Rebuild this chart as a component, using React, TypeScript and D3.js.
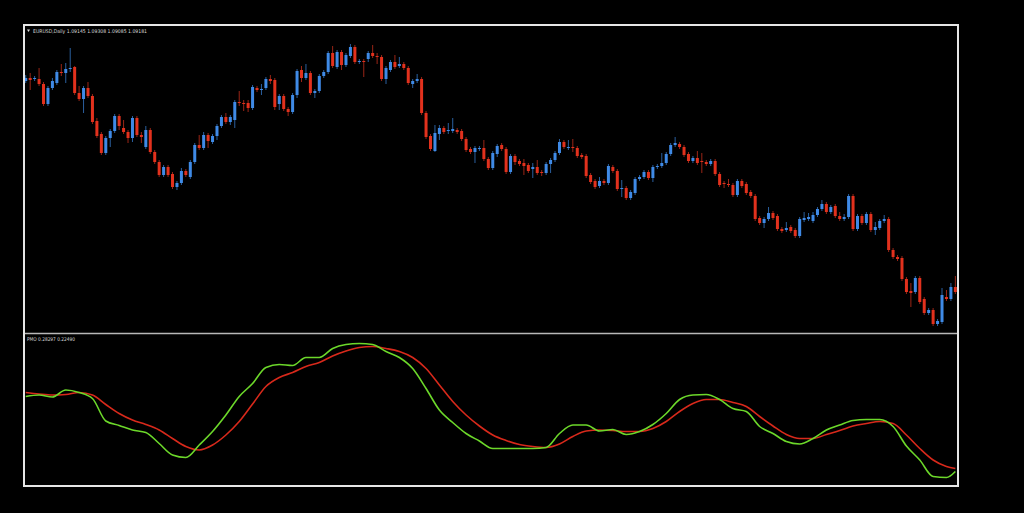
import * as d3 from 'd3';

// EURUSD daily candles (oldest first)
const opens = [1.1127,1.1130,1.1129,1.1129,1.1124,1.1104,1.1120,1.1125,1.1136,1.1135,1.1139,1.1141,1.1115,1.1109,1.1120,1.1112,1.1087,1.1074,1.1055,1.1070,1.1077,1.1092,1.1080,1.1076,1.1070,1.1090,1.1073,1.1061,1.1078,1.1056,1.1046,1.1033,1.1041,1.1034,1.1021,1.1025,1.1037,1.1031,1.1046,1.1063,1.1060,1.1073,1.1066,1.1072,1.1082,1.1091,1.1086,1.1088,1.1106,1.1105,1.1105,1.1100,1.1120,1.1118,1.1120,1.1129,1.1128,1.1104,1.1112,1.1099,1.1096,1.1113,1.1138,1.1130,1.1135,1.1115,1.1117,1.1132,1.1136,1.1155,1.1141,1.1156,1.1143,1.1152,1.1161,1.1146,1.1147,1.1149,1.1155,1.1152,1.1151,1.1129,1.1138,1.1146,1.1142,1.1144,1.1140,1.1124,1.1127,1.1129,1.1095,1.1072,1.1057,1.1074,1.1080,1.1077,1.1077,1.1078,1.1077,1.1069,1.1059,1.1056,1.1059,1.1060,1.1049,1.1040,1.1054,1.1063,1.1059,1.1036,1.1052,1.1047,1.1045,1.1043,1.1039,1.1041,1.1036,1.1035,1.1044,1.1048,1.1055,1.1066,1.1060,1.1061,1.1060,1.1053,1.1052,1.1033,1.1027,1.1022,1.1027,1.1025,1.1041,1.1037,1.1019,1.1020,1.1010,1.1015,1.1029,1.1031,1.1036,1.1030,1.1041,1.1042,1.1045,1.1054,1.1063,1.1064,1.1061,1.1054,1.1047,1.1050,1.1047,1.1046,1.1044,1.1047,1.1034,1.1025,1.1024,1.1023,1.1013,1.1027,1.1024,1.1016,1.1012,1.0990,1.0985,1.0989,1.0995,1.0992,1.0979,1.0978,1.0981,1.0978,1.0972,1.0988,1.0989,1.0987,1.0993,1.0999,1.1004,1.0996,1.1002,1.0992,1.0989,1.0991,1.1012,1.0979,1.0992,1.0985,1.0994,1.0978,1.0980,1.0987,1.0989,1.0958,1.0951,1.0950,1.0929,1.0917,1.0916,1.0930,1.0909,1.0895,1.0898,1.0884,1.0886,1.0911,1.0909,1.0921];
const highs = [1.1133,1.1135,1.1132,1.1140,1.1126,1.1122,1.1130,1.1138,1.1144,1.1145,1.1160,1.1142,1.1122,1.1122,1.1126,1.1114,1.1090,1.1076,1.1072,1.1079,1.1094,1.1094,1.1088,1.1078,1.1092,1.1092,1.1076,1.1082,1.1080,1.1058,1.1048,1.1043,1.1043,1.1036,1.1027,1.1040,1.1039,1.1048,1.1065,1.1073,1.1076,1.1075,1.1074,1.1084,1.1093,1.1095,1.1093,1.1108,1.1117,1.1108,1.1108,1.1123,1.1122,1.1124,1.1131,1.1133,1.1130,1.1114,1.1114,1.1101,1.1115,1.1139,1.1142,1.1144,1.1137,1.1119,1.1134,1.1138,1.1157,1.1162,1.1158,1.1158,1.1155,1.1164,1.1163,1.1149,1.1149,1.1157,1.1163,1.1155,1.1153,1.1142,1.1148,1.1153,1.1151,1.1146,1.1142,1.1129,1.1134,1.1131,1.1097,1.1074,1.1083,1.1083,1.1082,1.1085,1.1090,1.1080,1.1079,1.1071,1.1061,1.1062,1.1062,1.1068,1.1051,1.1057,1.1064,1.1065,1.1061,1.1054,1.1054,1.1049,1.1049,1.1045,1.1045,1.1048,1.1038,1.1046,1.1050,1.1057,1.1069,1.1068,1.1068,1.1069,1.1062,1.1055,1.1054,1.1035,1.1029,1.1031,1.1029,1.1044,1.1043,1.1039,1.1028,1.1022,1.1018,1.1031,1.1033,1.1038,1.1038,1.1043,1.1044,1.1055,1.1056,1.1065,1.1071,1.1066,1.1063,1.1056,1.1052,1.1057,1.1055,1.1048,1.1049,1.1049,1.1036,1.1027,1.1029,1.1025,1.1029,1.1029,1.1026,1.1018,1.1014,1.0992,1.0991,1.1001,1.0997,1.0994,1.0981,1.0986,1.0983,1.0980,1.0991,1.0996,1.0995,1.0996,1.1001,1.1008,1.1006,1.1003,1.1004,1.0996,1.0994,1.1014,1.1014,1.0994,1.0994,1.0996,1.0996,1.0986,1.0989,1.0993,1.0991,1.0960,1.0953,1.0952,1.0931,1.0925,1.0932,1.0932,1.0911,1.0900,1.0900,1.0889,1.0920,1.0918,1.0925,1.0932];
const lows = [1.1125,1.1118,1.1127,1.1122,1.1102,1.1102,1.1118,1.1123,1.1132,1.1125,1.1136,1.1113,1.1107,1.1095,1.1110,1.1084,1.1070,1.1053,1.1053,1.1061,1.1075,1.1078,1.1074,1.1065,1.1066,1.1071,1.1065,1.1059,1.1054,1.1044,1.1031,1.1031,1.1031,1.1019,1.1018,1.1023,1.1031,1.1029,1.1044,1.1058,1.1058,1.1060,1.1064,1.1068,1.1080,1.1084,1.1083,1.1080,1.1102,1.1097,1.1096,1.1098,1.1116,1.1113,1.1118,1.1124,1.1098,1.1098,1.1097,1.1092,1.1094,1.1110,1.1126,1.1128,1.1113,1.1110,1.1115,1.1130,1.1134,1.1140,1.1139,1.1138,1.1141,1.1150,1.1144,1.1144,1.1131,1.1146,1.1150,1.1144,1.1127,1.1124,1.1136,1.1139,1.1140,1.1138,1.1123,1.1120,1.1125,1.1093,1.1069,1.1057,1.1056,1.1068,1.1074,1.1074,1.1075,1.1074,1.1067,1.1056,1.1054,1.1045,1.1057,1.1047,1.1038,1.1038,1.1051,1.1057,1.1034,1.1034,1.1043,1.1042,1.1033,1.1035,1.1030,1.1033,1.1032,1.1033,1.1035,1.1046,1.1053,1.1059,1.1058,1.1056,1.1050,1.1049,1.1030,1.1024,1.1019,1.1020,1.1023,1.1023,1.1035,1.1017,1.1011,1.1008,1.1008,1.1013,1.1027,1.1029,1.1028,1.1026,1.1039,1.1040,1.1043,1.1052,1.1061,1.1059,1.1051,1.1045,1.1045,1.1043,1.1035,1.1042,1.1042,1.1032,1.1021,1.1020,1.1021,1.1011,1.1011,1.1020,1.1013,1.1010,1.0987,1.0983,1.0980,1.0987,1.0988,1.0977,1.0975,1.0976,1.0975,1.0970,1.0970,1.0986,1.0987,1.0985,1.0991,1.0997,1.0994,1.0994,1.0990,1.0987,1.0987,1.0989,1.0977,1.0977,1.0983,1.0983,1.0976,1.0973,1.0978,1.0985,1.0956,1.0949,1.0947,1.0927,1.0914,1.0901,1.0914,1.0904,1.0893,1.0893,1.0882,1.0882,1.0884,1.0907,1.0907,1.0914];
const closes = [1.1130,1.1128,1.1130,1.1124,1.1104,1.1120,1.1127,1.1136,1.1135,1.1139,1.1140,1.1115,1.1109,1.1120,1.1112,1.1086,1.1072,1.1055,1.1070,1.1077,1.1092,1.1082,1.1076,1.1070,1.1090,1.1073,1.1071,1.1078,1.1056,1.1046,1.1033,1.1041,1.1033,1.1021,1.1025,1.1037,1.1033,1.1046,1.1063,1.1060,1.1073,1.1067,1.1072,1.1082,1.1091,1.1086,1.1091,1.1106,1.1105,1.1104,1.1100,1.1121,1.1118,1.1119,1.1129,1.1127,1.1101,1.1112,1.1099,1.1096,1.1113,1.1137,1.1130,1.1135,1.1115,1.1117,1.1132,1.1136,1.1155,1.1142,1.1156,1.1143,1.1153,1.1161,1.1146,1.1147,1.1146,1.1155,1.1152,1.1151,1.1129,1.1140,1.1146,1.1141,1.1144,1.1140,1.1125,1.1127,1.1129,1.1095,1.1071,1.1059,1.1075,1.1080,1.1076,1.1078,1.1079,1.1076,1.1069,1.1058,1.1056,1.1060,1.1060,1.1049,1.1040,1.1055,1.1062,1.1059,1.1036,1.1052,1.1046,1.1044,1.1042,1.1037,1.1041,1.1035,1.1035,1.1044,1.1048,1.1055,1.1066,1.1061,1.1061,1.1060,1.1052,1.1051,1.1032,1.1026,1.1021,1.1027,1.1025,1.1042,1.1037,1.1019,1.1020,1.1010,1.1016,1.1029,1.1031,1.1036,1.1030,1.1041,1.1042,1.1045,1.1054,1.1063,1.1065,1.1061,1.1053,1.1047,1.1050,1.1045,1.1046,1.1044,1.1047,1.1034,1.1023,1.1024,1.1023,1.1013,1.1027,1.1022,1.1015,1.1012,1.0989,1.0985,1.0989,1.0995,1.0990,1.0979,1.0977,1.0980,1.0977,1.0972,1.0989,1.0990,1.0991,1.0993,1.0999,1.1004,1.0996,1.1001,1.0992,1.0989,1.0991,1.1012,1.0979,1.0992,1.0985,1.0994,1.0978,1.0981,1.0987,1.0989,1.0958,1.0951,1.0949,1.0929,1.0916,1.0915,1.0930,1.0906,1.0895,1.0898,1.0884,1.0887,1.0913,1.0909,1.0921,1.0916];

// Price Momentum Oscillator, sampled every third bar (plus the last bar)
const pmoBars = [...d3.range(0, 210, 3), 209];
const pmoLine = [0.87,0.90,0.86,1.00,0.95,0.83,0.38,0.29,0.20,0.15,-0.07,-0.30,-0.35,-0.10,0.17,0.50,0.87,1.13,1.45,1.51,1.49,1.65,1.65,1.83,1.91,1.93,1.91,1.77,1.65,1.43,1.03,0.60,0.35,0.13,-0.02,-0.17,-0.17,-0.17,-0.17,-0.15,0.13,0.30,0.30,0.18,0.21,0.11,0.17,0.31,0.53,0.81,0.90,0.91,0.81,0.63,0.57,0.27,0.13,-0.03,-0.08,0.03,0.20,0.30,0.39,0.41,0.41,0.27,-0.12,-0.40,-0.73,-0.75,-0.63];
const signalLine = [0.95,0.92,0.90,0.91,0.95,0.90,0.71,0.53,0.40,0.31,0.20,0.03,-0.13,-0.20,-0.10,0.10,0.37,0.72,1.07,1.25,1.35,1.47,1.55,1.68,1.78,1.85,1.87,1.83,1.77,1.65,1.43,1.10,0.77,0.50,0.28,0.10,-0.01,-0.09,-0.13,-0.15,-0.08,0.07,0.18,0.20,0.19,0.17,0.17,0.23,0.37,0.57,0.73,0.81,0.81,0.75,0.67,0.47,0.28,0.11,0.03,0.03,0.11,0.19,0.28,0.33,0.37,0.33,0.10,-0.17,-0.40,-0.53,-0.57];

const priceLabel = 'EURUSD,Daily  1.09145 1.09308 1.09085 1.09181';
const pmoLabel = 'PMO 0.28297 0.22490';

const W = 1024;
const H = 513;
const frame = { left: 24, top: 25, right: 958, bottom: 486 };
const split = 333.5;

export default function App() {
    const x = d3.scaleBand<number>()
        .domain(d3.range(opens.length))
        .range([23.5, 23.5 + opens.length * 4.448])
        .paddingInner(0.33)
        .paddingOuter(0.165);
    const step = x.step();
    const cx = (i: number) => 23.5 + step * i + step / 2;
    const bw = Math.max(2, Math.round(x.bandwidth()));

    const y = d3.scaleLinear().domain([1.0876, 1.1181]).range([332, 27]);
    const yp = d3.scaleLinear().domain([-0.88, 2.08]).range([484, 336]);

    const line = d3.line<number>()
        .x((_, k) => cx(pmoBars[k]))
        .y((v) => yp(v))
        .curve(d3.curveMonotoneX);

    const up = '#3f8ae6';
    const down = '#e2311d';

    return (
        <div style={{ position: 'fixed', inset: 0, background: '#000' }}>
            <svg width={W} height={H} style={{ display: 'block' }}>
                <defs>
                    <clipPath id="plot">
                        <rect x={frame.left + 1} y={frame.top + 1} width={frame.right - frame.left - 2} height={frame.bottom - frame.top - 2} />
                    </clipPath>
                </defs>
                <rect width={W} height={H} fill="#000" />

                <g clipPath="url(#plot)">
                    {opens.map((o, i) => {
                        const bull = closes[i] >= o;
                        return (
                            <line key={'w' + i}
                                x1={cx(i)} x2={cx(i)}
                                y1={y(highs[i])} y2={y(lows[i])}
                                stroke={bull ? '#2a5f9e' : '#9a2516'} strokeWidth={1} />
                        );
                    })}
                    {opens.map((o, i) => {
                        const bull = closes[i] >= o;
                        const top = y(Math.max(o, closes[i]));
                        const h = Math.max(1, y(Math.min(o, closes[i])) - top);
                        return (
                            <rect key={'b' + i}
                                x={cx(i) - bw / 2} y={top}
                                width={bw} height={h}
                                fill={bull ? up : down} />
                        );
                    })}

                    <path d={line(signalLine) || ''} fill="none" stroke="#d8291b" strokeWidth={1.6} />
                    <path d={line(pmoLine) || ''} fill="none" stroke="#6cd82a" strokeWidth={1.6} />
                </g>

                <line x1={frame.left} x2={frame.right} y1={split} y2={split} stroke="#b8b8b8" strokeWidth={1.5} />
                <rect x={frame.left} y={frame.top} width={frame.right - frame.left} height={frame.bottom - frame.top}
                    fill="none" stroke="#e6e6e6" strokeWidth={2} />

                <path d="M27,29.5 L30,29.5 L28.5,32 Z" fill="#ddd" />
                <text x={33} y={32.5} fill="#d8d8d8" fontFamily="DejaVu Sans, sans-serif" fontSize={5.2}
                    textLength={114} lengthAdjust="spacingAndGlyphs">{priceLabel}</text>
                <text x={27} y={341} fill="#d8d8d8" fontFamily="DejaVu Sans, sans-serif" fontSize={5.2}
                    textLength={48} lengthAdjust="spacingAndGlyphs">{pmoLabel}</text>
            </svg>
        </div>
    );
}
